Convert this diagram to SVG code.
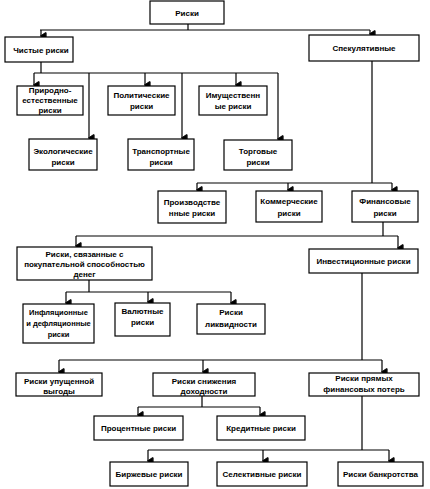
<svg xmlns="http://www.w3.org/2000/svg" width="430" height="489" viewBox="0 0 430 489">
<style>
.b{fill:#fff;stroke:#000;stroke-width:1.2}
.t{font-family:"Liberation Sans",Arial,sans-serif;font-size:8px;font-weight:bold;text-anchor:middle;fill:#000}
.c{fill:none;stroke:#000;stroke-width:1.2}
</style>
<defs>
<marker id="a" markerUnits="userSpaceOnUse" markerWidth="8" markerHeight="7" refX="3.5" refY="5" orient="auto-start-reverse" viewBox="0 0 7 6">
<path d="M0.5,0.5 H6.5 M0.5,1 L6.5,1 L3.5,5.5 z" fill="#000" stroke="#000" stroke-width="0.8"/>
</marker>
</defs>
<rect width="430" height="489" fill="#fff"/>
<g id="connectors" class="c">
<path d="M188,24 V30 M40,30 H370"/>
<path d="M41,30 V36" marker-end="url(#a)"/>
<path d="M370,30 V34" marker-end="url(#a)"/>
<path d="M41,62 V73 M34,73 H278"/>
<path d="M34,73 V85" marker-end="url(#a)"/>
<path d="M89,73 V138" marker-end="url(#a)"/>
<path d="M145,73 V85" marker-end="url(#a)"/>
<path d="M182,73 V138" marker-end="url(#a)"/>
<path d="M236,73 V85" marker-end="url(#a)"/>
<path d="M278,73 V139" marker-end="url(#a)"/>
<path d="M372,61 V183 M197,183 H392"/>
<path d="M197,183 V190" marker-end="url(#a)"/>
<path d="M288,183 V190" marker-end="url(#a)"/>
<path d="M392,183 V190" marker-end="url(#a)"/>
<path d="M383,222 V236 M76,236 H398"/>
<path d="M76,236 V246" marker-end="url(#a)"/>
<path d="M398,236 V248" marker-end="url(#a)"/>
<path d="M89,280 V292 M66,292 H231"/>
<path d="M66,292 V303" marker-end="url(#a)"/>
<path d="M148,292 V302" marker-end="url(#a)"/>
<path d="M231,292 V303" marker-end="url(#a)"/>
<path d="M362,273 V360 M59,360 H382"/>
<path d="M59,360 V372" marker-end="url(#a)"/>
<path d="M203,360 V372" marker-end="url(#a)"/>
<path d="M382,360 V372" marker-end="url(#a)"/>
<path d="M202,396 V407 M138,407 H260"/>
<path d="M138,407 V415" marker-end="url(#a)"/>
<path d="M260,407 V415" marker-end="url(#a)"/>
<path d="M362,396 V450 M148,450 H389"/>
<path d="M148,450 V461" marker-end="url(#a)"/>
<path d="M263,450 V461" marker-end="url(#a)"/>
<path d="M389,450 V461" marker-end="url(#a)"/>
</g>
<g id="n-riski"><rect class="b" x="150" y="1" width="74" height="23"/><text class="t" x="187" y="15.5">Риски</text></g>
<g id="n-chistye"><rect class="b" x="5" y="37" width="68" height="25"/><text class="t" x="41" y="52.5">Чистые риски</text></g>
<g id="n-spek"><rect class="b" x="309" y="35" width="110" height="26"/><text class="t" x="364" y="51">Спекулятивные</text></g>
<g id="n-prirodno"><rect class="b" x="17" y="86" width="66" height="29"/><text class="t" x="50" y="93">Природно-</text><text class="t" x="50" y="103">естественные</text><text class="t" x="50" y="113">риски</text></g>
<g id="n-polit"><rect class="b" x="108" y="86" width="67" height="29"/><text class="t" x="141.5" y="98">Политические</text><text class="t" x="141.5" y="109">риски</text></g>
<g id="n-imush"><rect class="b" x="199" y="86" width="68" height="29"/><text class="t" x="233" y="98">Имущественн</text><text class="t" x="233" y="109">ые риски</text></g>
<g id="n-ekol"><rect class="b" x="29" y="139" width="68" height="31"/><text class="t" x="63" y="154">Экологические</text><text class="t" x="63" y="165">риски</text></g>
<g id="n-transp"><rect class="b" x="128" y="139" width="66" height="31"/><text class="t" x="161" y="154">Транспортные</text><text class="t" x="161" y="165">риски</text></g>
<g id="n-torg"><rect class="b" x="224" y="140" width="68" height="30"/><text class="t" x="258" y="154">Торговые</text><text class="t" x="258" y="165">риски</text></g>
<g id="n-proizv"><rect class="b" x="158" y="191" width="68" height="32"/><text class="t" x="192" y="205">Производстве</text><text class="t" x="192" y="216">нные риски</text></g>
<g id="n-komm"><rect class="b" x="256" y="191" width="66" height="31"/><text class="t" x="289" y="204">Коммерческие</text><text class="t" x="289" y="216">риски</text></g>
<g id="n-fin"><rect class="b" x="352" y="191" width="66" height="31"/><text class="t" x="385" y="204">Финансовые</text><text class="t" x="385" y="216">риски</text></g>
<g id="n-pokup"><rect class="b" x="17" y="247" width="135" height="33"/><text class="t" x="84.5" y="257">Риски, связанные с</text><text class="t" x="84.5" y="267">покупательной способностью</text><text class="t" x="84.5" y="277">денег</text></g>
<g id="n-invest"><rect class="b" x="309" y="249" width="109" height="24"/><text class="t" x="363.5" y="264">Инвестиционные риски</text></g>
<g id="n-infl"><rect class="b" x="23" y="304" width="71" height="39"/><text class="t" x="58.5" y="315" style="font-size:7.5px">Инфляционные</text><text class="t" x="58.5" y="326" style="font-size:7.5px">и дефляционные</text><text class="t" x="58.5" y="337" style="font-size:7.5px">риски</text></g>
<g id="n-valut"><rect class="b" x="115" y="303" width="55" height="33"/><text class="t" x="142.5" y="314">Валютные</text><text class="t" x="142.5" y="325">риски</text></g>
<g id="n-likv"><rect class="b" x="197" y="304" width="68" height="30"/><text class="t" x="231" y="315">Риски</text><text class="t" x="231" y="327">ликвидности</text></g>
<g id="n-upush"><rect class="b" x="16" y="373" width="86" height="23"/><text class="t" x="59" y="384">Риски упущенной</text><text class="t" x="59" y="394">выгоды</text></g>
<g id="n-snizh"><rect class="b" x="153" y="373" width="102" height="23"/><text class="t" x="204" y="384">Риски снижения</text><text class="t" x="204" y="394">доходности</text></g>
<g id="n-pryam"><rect class="b" x="309" y="373" width="110" height="23"/><text class="t" x="364" y="381">Риски прямых</text><text class="t" x="364" y="392">финансовых потерь</text></g>
<g id="n-proc"><rect class="b" x="94" y="416" width="89" height="24"/><text class="t" x="138.5" y="431">Процентные риски</text></g>
<g id="n-kred"><rect class="b" x="217" y="416" width="88" height="24"/><text class="t" x="261" y="431">Кредитные риски</text></g>
<g id="n-birzh"><rect class="b" x="110" y="462" width="78" height="24"/><text class="t" x="149" y="477">Биржевые риски</text></g>
<g id="n-selekt"><rect class="b" x="217" y="462" width="90" height="24"/><text class="t" x="262" y="477">Селективные риски</text></g>
<g id="n-bankr"><rect class="b" x="338" y="462" width="85" height="24"/><text class="t" x="380.5" y="477">Риски банкротства</text></g>
</svg>
